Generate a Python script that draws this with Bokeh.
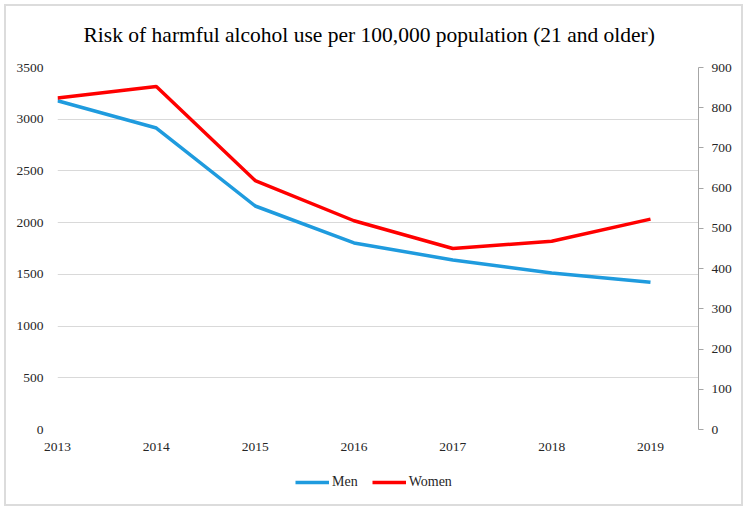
from bokeh.plotting import figure
from bokeh.layouts import column
from bokeh.models import LinearAxis, Range1d, Legend, LegendItem, FixedTicker
from bokeh.embed import file_html
from bokeh.resources import INLINE

years = [2013, 2014, 2015, 2016, 2017, 2018, 2019]
men = [3178, 2915, 2161, 1804, 1639, 1514, 1423]
women = [824, 853, 619, 519, 450, 468, 523]
left_ticks = [0, 500, 1000, 1500, 2000, 2500, 3000, 3500]
right_ticks = [0, 100, 200, 300, 400, 500, 600, 700, 800, 900]
title_text = "Risk of harmful alcohol use per 100,000 population (21 and older)"

FONT = "Liberation Serif"
BLUE = "#1F9BDE"
RED = "#FF0000"
TXT = "#262626"

# layout (pixels)
W = 747
H_MAIN = 460
H_LEG = 50
F_LEFT, F_RIGHT, F_TOP, F_BOTTOM = 57, 698, 67, 429
x_end = 2019 + (F_RIGHT - 650) / ((650 - F_LEFT) / 6)

p = figure(width=W, height=H_MAIN, x_range=Range1d(2013, x_end),
           y_range=Range1d(0, 3500),
           output_backend="svg", toolbar_location=None,
           min_border_left=F_LEFT, min_border_right=W - F_RIGHT,
           min_border_top=F_TOP, min_border_bottom=H_MAIN - F_BOTTOM,
           title=title_text)
p.border_fill_color = None
p.background_fill_color = None
p.outline_line_color = None
p.title.align = "left"
p.title.offset = 26
p.title.vertical_align = "middle"
p.title.text_font = FONT
p.title.text_font_size = "21.5px"
p.title.text_font_style = "normal"
p.title.text_color = "#000000"
p.title.standoff = 40

p.extra_y_ranges = {"right": Range1d(0, 900)}

# x axis
xa = p.xaxis[0]
xa.ticker = FixedTicker(ticks=years)
xa.axis_line_color = None
xa.major_tick_line_color = None
xa.minor_tick_line_color = None
xa.major_tick_out = 0
xa.major_tick_in = 0
xa.major_label_standoff = 13
xa.major_label_text_font = FONT
xa.major_label_text_font_size = "13.5px"
xa.major_label_text_color = TXT

# left axis
ya = p.yaxis[0]
ya.ticker = FixedTicker(ticks=left_ticks)
ya.axis_line_color = None
ya.major_tick_line_color = None
ya.minor_tick_line_color = None
ya.major_tick_out = 0
ya.major_tick_in = 0
ya.major_label_standoff = 14
ya.major_label_text_font = FONT
ya.major_label_text_font_size = "13.5px"
ya.major_label_text_color = TXT

# right axis
ra = LinearAxis(y_range_name="right", ticker=FixedTicker(ticks=right_ticks))
ra.axis_line_color = "#a6a6a6"
ra.major_tick_line_color = "#a6a6a6"
ra.minor_tick_line_color = None
ra.major_tick_out = 5
ra.major_tick_in = 0
ra.major_label_standoff = 8
ra.major_label_text_font = FONT
ra.major_label_text_font_size = "13.5px"
ra.major_label_text_color = TXT
p.add_layout(ra, "right")

p.xgrid.grid_line_color = None
p.ygrid.ticker = FixedTicker(ticks=left_ticks)
p.ygrid.grid_line_color = "#d9d9d9"
p.ygrid.grid_line_width = 1

p.line(years, men, line_color=BLUE, line_width=3.5)
p.line(years, women, line_color=RED, line_width=3.5, y_range_name="right")

# legend strip (same series, ranges chosen so only the legend shows)
q = figure(width=W, height=H_LEG, x_range=Range1d(0, 1), y_range=Range1d(0, 1),
           output_backend="svg", toolbar_location=None, min_border=0,
           x_axis_location=None, y_axis_location=None)
q.border_fill_color = None
q.background_fill_color = None
q.outline_line_color = None
q.grid.visible = False
l_men = q.line(years, men, line_color=BLUE, line_width=3.5)
l_women = q.line(years, women, line_color=RED, line_width=3.5)

legend = Legend(items=[LegendItem(label="Men", renderers=[l_men]),
                       LegendItem(label="Women", renderers=[l_women])],
                orientation="horizontal", location=(238, 20),
                border_line_color=None, background_fill_alpha=0,
                label_text_font=FONT, label_text_font_size="14px",
                label_text_color=TXT, label_height=14,
                glyph_width=34, glyph_height=14, spacing=14,
                label_standoff=3, margin=0, padding=0)
q.add_layout(legend, "center")

layout = column(p, q, spacing=0,
                styles={"outline": "2px solid #dcdcdc", "outline-offset": "-6px"})

open("out.html", "w").write(file_html(layout, INLINE))
